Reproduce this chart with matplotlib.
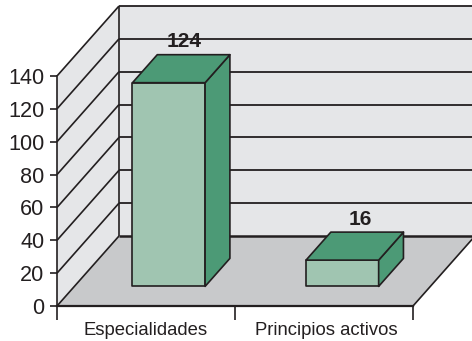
import matplotlib
matplotlib.use("Agg")
import matplotlib.pyplot as plt
from matplotlib.patches import Polygon

categories = ["Especialidades", "Principios activos"]
values = [124, 16]
y_ticks = [0, 20, 40, 60, 80, 100, 120, 140]

INK = "#231F20"
WALL = "#E5E6E8"
FLOOR = "#C8C9CB"
FRONT = "#A0C5B1"
SHADE = "#4C9A76"

W, H = 472, 341
plt.rcParams["font.family"] = ["Liberation Sans", "DejaVu Sans"]
fig = plt.figure(figsize=(W / 100, H / 100), dpi=100)
# Plot box of the front plane, in pixels
left, right, top, bottom = 57, 413, 76, 306
ax = fig.add_axes([left / W, 1 - bottom / H, (right - left) / W, (bottom - top) / H])
ax.set_xlim(0, 2)
ax.set_ylim(0, 140)
ax.patch.set_visible(False)

# Oblique projection: depth 0..1 shifts a point up and to the right
DX = 62 / ((right - left) / 2)
DY = 70 / ((bottom - top) / 140)


def proj(x, y, z=0.0):
    return (x + z * DX, y + z * DY)


def face(points, color, zorder):
    ax.add_patch(Polygon([proj(*p) for p in points], closed=True, facecolor=color,
                         edgecolor=INK, linewidth=1.2, joinstyle="round",
                         clip_on=False, zorder=zorder))


def line(p, q, lw=1.2, zorder=2):
    a, b = proj(*p), proj(*q)
    ax.plot([a[0], b[0]], [a[1], b[1]], color=INK, lw=lw, clip_on=False,
            solid_capstyle="butt", zorder=zorder)


# Walls and floor; the figure edge trims the far right side
ymax = y_ticks[-1]
far = 2.2
ax.add_patch(Polygon([proj(0, 0, 1), proj(far, 0, 1), proj(far, ymax, 1), proj(0, ymax, 1)],
                     facecolor=WALL, edgecolor="none", clip_on=False, zorder=1))
ax.add_patch(Polygon([proj(0, 0), proj(0, 0, 1), proj(0, ymax, 1), proj(0, ymax)],
                     facecolor=WALL, edgecolor="none", clip_on=False, zorder=1))
ax.add_patch(Polygon([proj(0, 0), proj(2, 0), proj(2, 0, 1), proj(far, 0, 1), proj(0, 0, 1)],
                     facecolor=FLOOR, edgecolor="none", clip_on=False, zorder=1.5))

for v in y_ticks:
    lw = 1.8 if v == 0 else 1.3
    line((0, v), (0, v, 1), lw=1.2)
    line((0, v, 1), (far, v, 1), lw=lw)
line((0, 0, 1), (0, ymax, 1), lw=1.2)
line((2, 0), (2, 0, 1), lw=1.2)

# Three-sided bars standing on the floor
z0, z1 = 0.28, 0.68
bar_left = [0.3265, 1.3015]
bar_w = 0.408
for x0, val in zip(bar_left, values):
    x1 = x0 + bar_w
    face([(x0, 0, z0), (x1, 0, z0), (x1, val, z0), (x0, val, z0)], FRONT, 5)
    face([(x1, 0, z0), (x1, 0, z1), (x1, val, z1), (x1, val, z0)], SHADE, 5)
    face([(x0, val, z0), (x1, val, z0), (x1, val, z1), (x0, val, z1)], SHADE, 5)
    cx, cy = proj((x0 + x1) / 2, val, (z0 + z1) / 2)
    ax.annotate(str(val), (cx, cy), xytext=(3 if val > 50 else 6, 22 if val > 50 else 21),
                textcoords="offset pixels", ha="center", va="baseline",
                fontsize=15, fontweight="bold", color=INK, zorder=6,
                annotation_clip=False)

# Axes
for s in ("top", "right"):
    ax.spines[s].set_visible(False)
for s in ("left", "bottom"):
    ax.spines[s].set_color(INK)
    ax.spines[s].set_zorder(4)
ax.spines["left"].set_linewidth(1.2)
ax.spines["bottom"].set_linewidth(1.6)
ax.set_yticks(y_ticks)
ax.tick_params(axis="y", length=5, width=1.2, color=INK, labelcolor=INK,
               labelsize=15.6, pad=4)
ax.set_xticks([0, 1, 2])
ax.set_xticklabels([])
ax.tick_params(axis="x", which="major", length=10, width=1.2, color=INK)
ax.set_xticks([0.5, 1.515], labels=categories, minor=True)
ax.tick_params(axis="x", which="minor", length=0, labelcolor=INK, labelsize=13.3, pad=11.5)

fig.savefig("out.png", dpi=100, facecolor="white")
